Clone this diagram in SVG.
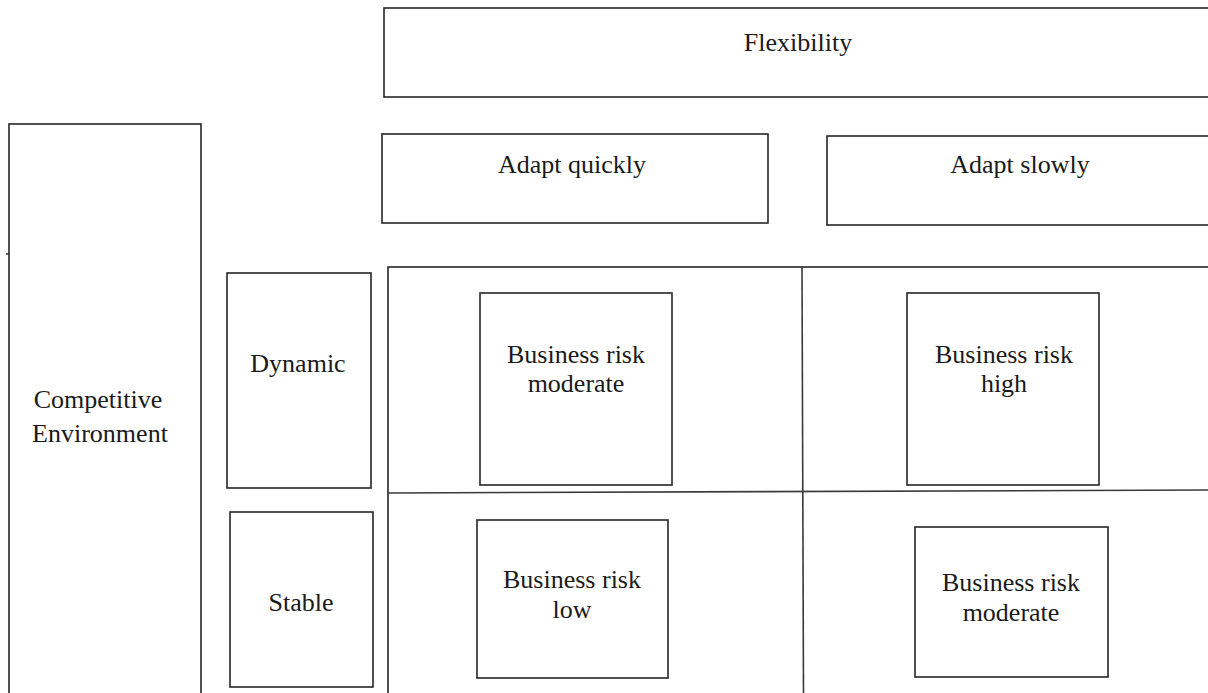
<svg xmlns="http://www.w3.org/2000/svg" width="1208" height="693" viewBox="0 0 1208 693">
<style>
.box{fill:#fff;stroke:#262626;stroke-width:1.6}
.ln{fill:none;stroke:#3a3a3a;stroke-width:1.6}
text{font-family:"Liberation Serif","Times New Roman",serif;font-size:26px;fill:#1a1a1a;text-anchor:middle}
</style>
<rect width="1208" height="693" fill="#fff"/>
<g id="flexibility"><rect class="box" x="384" y="8" width="830" height="89"/><text x="798" y="51">Flexibility</text></g>
<g id="adapt-quickly"><rect class="box" x="382" y="134" width="386" height="89"/><text x="572" y="173">Adapt quickly</text></g>
<g id="adapt-slowly"><rect class="box" x="827" y="136" width="390" height="89"/><text x="1020" y="173">Adapt slowly</text></g>
<g id="competitive-environment"><rect class="box" x="9" y="124" width="192" height="575"/><line class="ln" x1="6" y1="254" x2="9" y2="254"/><text x="98" y="408">Competitive</text><text x="100" y="442">Environment</text></g>
<g id="dynamic"><rect class="box" x="227" y="273" width="144" height="215"/><text x="298" y="372">Dynamic</text></g>
<g id="stable"><rect class="box" x="230" y="512" width="143" height="175"/><text x="301" y="611">Stable</text></g>
<g id="grid"><rect class="box" x="388" y="267" width="830" height="432"/></g>
<g id="connectors">
<line class="ln" x1="388" y1="493" x2="1208" y2="490"/>
<line class="ln" x1="802" y1="267" x2="803.5" y2="693"/>
</g>
<g id="risk-moderate-1"><rect class="box" x="480" y="293" width="192" height="192"/><text x="576" y="363">Business risk</text><text x="576" y="392">moderate</text></g>
<g id="risk-high"><rect class="box" x="907" y="293" width="192" height="192"/><text x="1004" y="363">Business risk</text><text x="1004" y="392">high</text></g>
<g id="risk-low"><rect class="box" x="477" y="520" width="191" height="158"/><text x="572" y="588">Business risk</text><text x="572" y="618">low</text></g>
<g id="risk-moderate-2"><rect class="box" x="915" y="527" width="193" height="150"/><text x="1011" y="591">Business risk</text><text x="1011" y="621">moderate</text></g>
</svg>
